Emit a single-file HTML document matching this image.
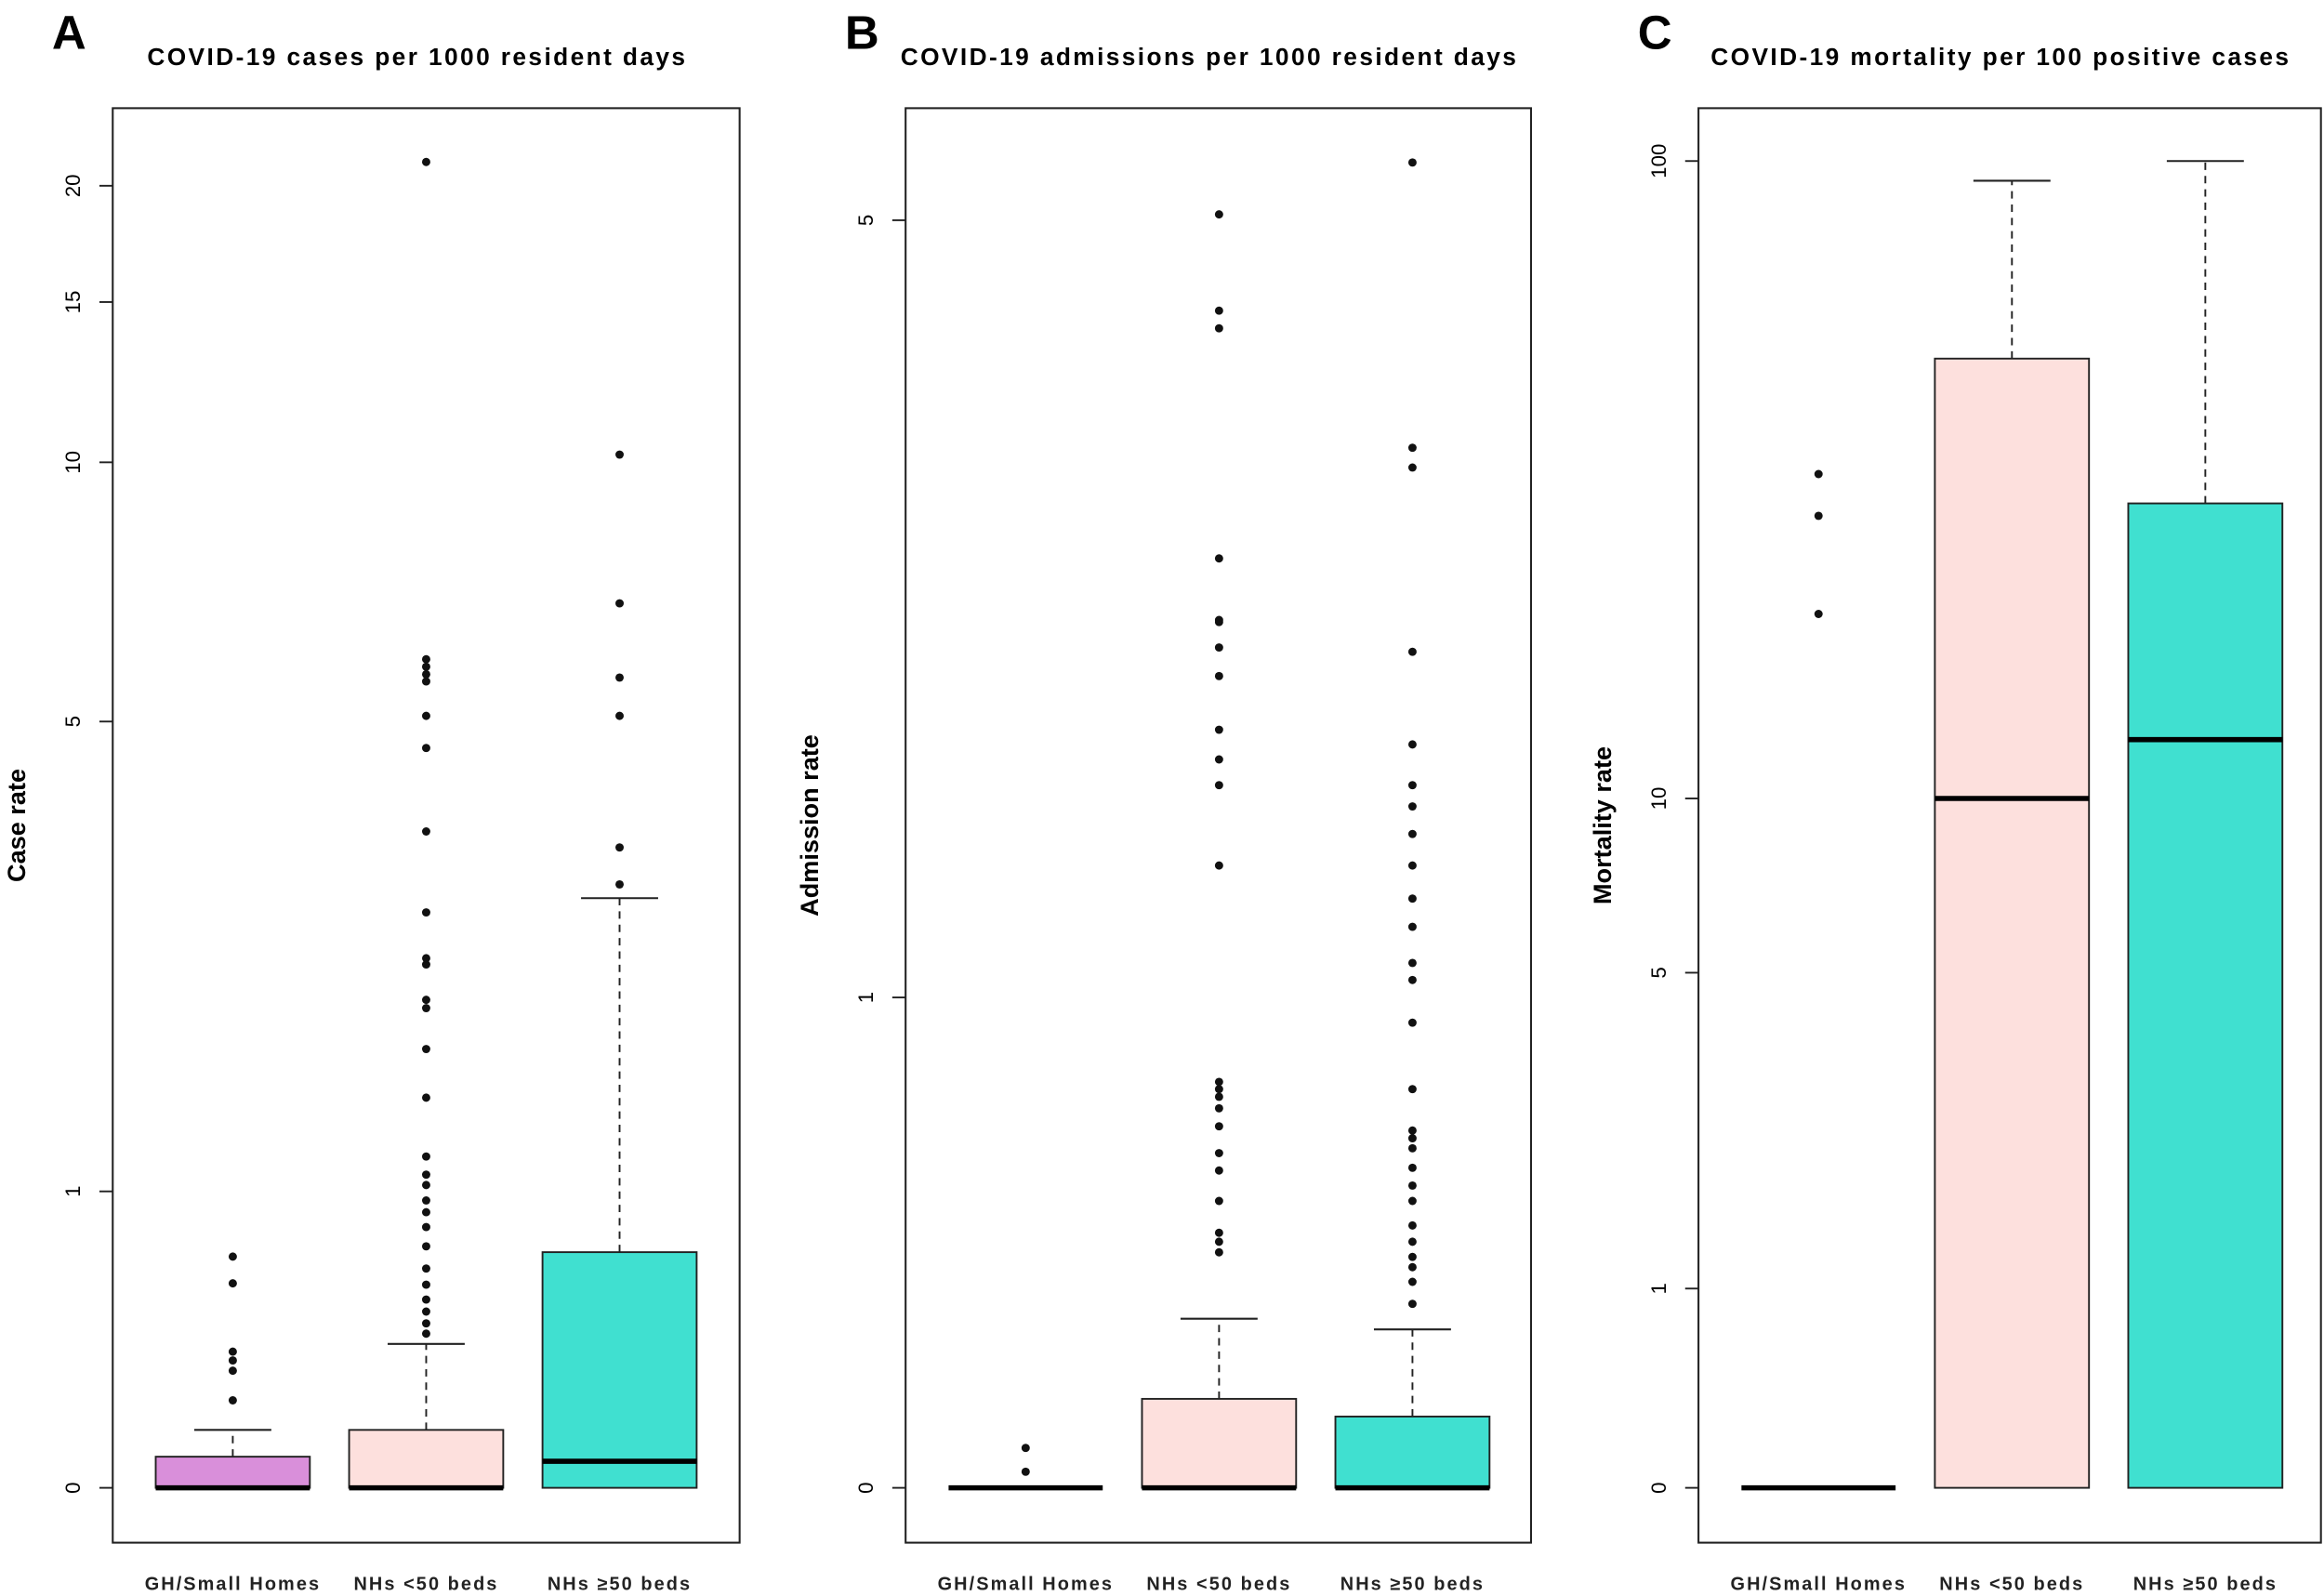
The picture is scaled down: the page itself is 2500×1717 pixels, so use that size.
<!DOCTYPE html>
<html><head><meta charset="utf-8"><style>
html,body{margin:0;padding:0;background:#fff;}
svg{display:block;font-family:"Liberation Sans",Arial,sans-serif;}
</style></head><body>
<svg id="fig" width="2500" height="1717" viewBox="0 0 1568 1077" xmlns="http://www.w3.org/2000/svg"></svg>
<script>
const categories = ["GH/Small Homes","NHs <50 beds","NHs \u226550 beds"];
const fills = ["#d98fda","#fde0dd","#40e0d0"];
// Panel A: case rate
const caseQ3 = [0.0755, 0.145, 0.735];
const caseMedian = [0, 0, 0.064];
const caseWhiskerHi = [0.145, 0.40, 2.97];
const caseOutliers = [
  [0.227,0.315,0.347,0.375,0.613,0.717],
  [0.434,0.469,0.51,0.553,0.608,0.67,0.759,0.84,0.905,0.958,1.03,1.08,1.17,1.49,1.79,2.07,2.13,2.40,2.45,2.84,3.64,4.64,5.08,5.59,5.70,5.82,5.94,21.2],
  [3.10,3.47,5.08,5.65,6.91,10.2]
];
const caseTicks = [0,1,5,10,15,20];
// Panel B: admission rate
const admQ3 = [0, 0.134, 0.106];
const admMedian = [0, 0, 0];
const admWhiskerHi = [0, 0.27, 0.251];
const admOutliers = [
  [0.058,0.023],
  [0.395,0.416,0.434,0.50,0.566,0.605,0.667,0.71,0.738,0.757,0.775,1.41,1.70,1.80,1.92,2.15,2.28,2.40,2.41,2.72,4.15,4.28,5.05],
  [0.297,0.338,0.366,0.386,0.416,0.449,0.50,0.533,0.572,0.616,0.639,0.657,0.757,0.93,1.05,1.10,1.21,1.30,1.41,1.52,1.62,1.70,1.86,2.26,3.23,3.35,5.51]
];
const admTicks = [0,1,5];
// Panel C: mortality rate
const mortQ3 = [0, 49.8, 29.7];
const mortMedian = [0, 10, 12.5];
const mortWhiskerHi = [0, 93.3, 100];
const mortOutliers = [[33,28.4,19.9],[],[]];
const mortTicks = [0,1,5,10,100];

const svg = document.getElementById('fig');
const NS = "http://www.w3.org/2000/svg";
function mk(tag, attrs, parent){
  const e = document.createElementNS(NS, tag);
  for (const k in attrs) e.setAttribute(k, attrs[k]);
  (parent||svg).appendChild(e); return e;
}
const panels = [
  {letter:"A", title:"COVID-19 cases per 1000 resident days", ylab:"Case rate", x0:76, x1:499, k:288.6,
   q3:caseQ3, med:caseMedian, wh:caseWhiskerHi, out:caseOutliers, ticks:caseTicks, key:"case"},
  {letter:"B", title:"COVID-19 admissions per 1000 resident days", ylab:"Admission rate", x0:611, x1:1033, k:477.4,
   q3:admQ3, med:admMedian, wh:admWhiskerHi, out:admOutliers, ticks:admTicks, key:"admission"},
  {letter:"C", title:"COVID-19 mortality per 100 positive cases", ylab:"Mortality rate", x0:1146, x1:1566, k:194,
   q3:mortQ3, med:mortMedian, wh:mortWhiskerHi, out:mortOutliers, ticks:mortTicks, key:"mortality"}
];
const Y0 = 1004, TOP = 73, BOT = 1041;
panels.forEach((p, pi) => {
  const g = mk('g', {});
  
  
  const y = v => Y0 - Math.log(1 + v) * p.k;
  const cx = i => p.x0 + 81 + i * 130.5;
  const L = mk('text', {x: p.x0 - 41, y: 33, 'font-size': 32, 'font-weight': 'bold'}, g);
  L.textContent = p.letter;
  
  
  const T = mk('text', {x: (p.x0 + p.x1) / 2 - 6, y: 44, 'font-size': 16.5, 'font-weight': 'bold', 'text-anchor': 'middle', 'letter-spacing': 1.5}, g);
  T.textContent = p.title;
  
  
  const fr = mk('rect', {x: p.x0, y: TOP, width: p.x1 - p.x0, height: BOT - TOP, fill: 'none', stroke: '#222', 'stroke-width': 1.3}, g);
  
  
  const yl = mk('text', {x: 0, y: 0, 'font-size': 17, 'font-weight': 'bold', 'text-anchor': 'middle', transform: `translate(${p.x0 - 59},${(TOP + BOT) / 2}) rotate(-90)`}, g);
  yl.textContent = p.ylab;
  
  
  p.ticks.forEach(t => {
    const ty = y(t);
    const tl = mk('line', {x1: p.x0 - 9, x2: p.x0, y1: ty, y2: ty, stroke: '#222', 'stroke-width': 1.2}, g);
    
    
    const tt = mk('text', {x: 0, y: 0, 'font-size': 14, 'text-anchor': 'middle', transform: `translate(${p.x0 - 22},${ty}) rotate(-90)`}, g);
    tt.textContent = t;
    
    
  });
  categories.forEach((c, i) => {
    const x = cx(i);
    const xt = mk('text', {x: x, y: 1073, 'font-size': 12.5, 'font-weight': 'bold', 'text-anchor': 'middle', fill: '#222', 'letter-spacing': 1.3}, g);
    xt.textContent = c;
    
    
    const hw = 52;
    if (p.wh[i] > p.q3[i]) {
      const wl = mk('line', {x1: x, x2: x, y1: y(p.q3[i]), y2: y(p.wh[i]), stroke: '#222', 'stroke-width': 1.2, 'stroke-dasharray': '5,4'}, g);
      
      
      const cap = mk('line', {x1: x - 26, x2: x + 26, y1: y(p.wh[i]), y2: y(p.wh[i]), stroke: '#222', 'stroke-width': 1.3}, g);
      
      
    }
    const b = mk('rect', {x: x - hw, y: y(p.q3[i]), width: hw * 2, height: Math.max(0, y(0) - y(p.q3[i])), fill: fills[i], stroke: '#222', 'stroke-width': 1.2}, g);
    
    
    const m = mk('line', {x1: x - hw, x2: x + hw, y1: y(p.med[i]), y2: y(p.med[i]), stroke: '#000', 'stroke-width': 3.5}, g);
    
    
    p.out[i].forEach(v => {
      const o = mk('circle', {cx: x, cy: y(v), r: 2.8, fill: '#111'}, g);
      
      
    });
  });
});
</script>
</body></html>
